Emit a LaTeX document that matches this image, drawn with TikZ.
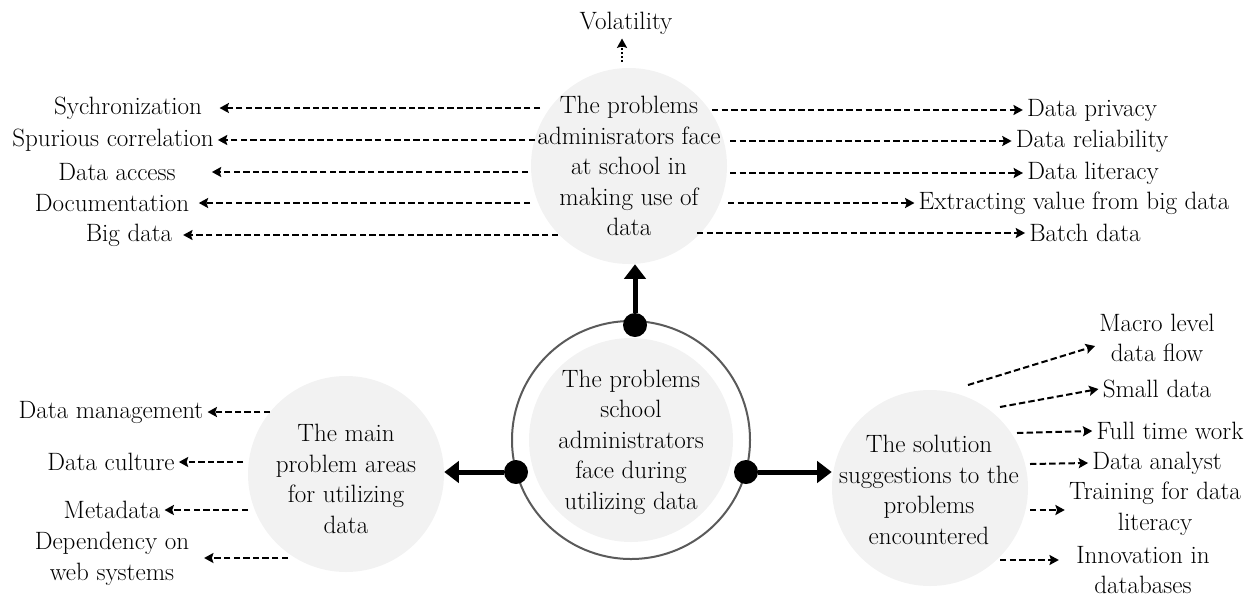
\documentclass[tikz,border=0pt]{standalone}
\usepackage{fontspec}
\usetikzlibrary{arrows.meta}
\definecolor{cfill}{HTML}{F2F2F2}
\definecolor{ringc}{HTML}{5A5A5A}
\begin{document}
\begin{tikzpicture}[x=0.75pt,y=-0.75pt,
  font=\fontsize{18.8}{22.9}\selectfont,
  bub/.style={circle,fill=cfill,minimum size=147pt,inner sep=0pt},
  txt/.style={align=center,inner sep=2pt},
  lbl/.style={align=center,inner sep=3pt},
  dotnode/.style={circle,fill=black,minimum size=18pt,inner sep=0pt},
  bigarrow/.style={line width=3.75pt,-{Triangle[length=11pt,width=16pt]}},
  dasharrow/.style={line width=1.5pt,dash pattern=on 4.8pt off 2.4pt,-{Stealth[length=7pt,width=7.5pt,inset=1.2pt]}},
  dotarrow/.style={line width=1.5pt,dash pattern=on 1.5pt off 1.5pt,-{Stealth[length=7pt,width=7.5pt,inset=1.2pt]}}]
\useasboundingbox (0,0) rectangle (1253,597);

% circles
\node[bub] (topc) at (629,166) {};
\node[txt] (topt) at (629,166) {The problems\\adminisrators face\\at school in\\making use of\\data};
\node[circle,draw=ringc,line width=1.5pt,minimum size=178.5pt,inner sep=0pt] (ring) at (631,440) {};
\node[bub,minimum size=153pt] (cen) at (631,440) {};
\node[txt] (cent) at (631,442) {The problems\\school\\administrators\\face during\\utilizing data};
\node[bub] (lc) at (346,474) {};
\node[txt] (lct) at (346,479) {The main\\problem areas\\for utilizing\\data};
\node[bub] (rc) at (930,488) {};
\node[txt] (rct) at (929,490) {The solution\\suggestions to the\\problems\\encountered};

% dots and thick arrows
\node[dotnode] (dt) at (635,325) {};
\node[dotnode] (dl) at (516,472) {};
\node[dotnode] (dr) at (746,472) {};
\draw[bigarrow] (dt) -- (dt |- topc.south);
\draw[bigarrow] (dl) -- (lc.east |- dl);
\draw[bigarrow] (dr) -- (rc.west |- dr);

% top
\node[lbl] (vol) at (626,23) {Volatility};
\coordinate (vs) at (622,62);
\draw[dotarrow] (vs) -- (vs |- vol.south);

% top-left labels
\node[lbl] (syn) at (128,108) {Sychronization};
\node[lbl] (spu) at (113,140) {Spurious correlation};
\node[lbl] (acc) at (117,172) {Data access};
\node[lbl] (doc) at (112,203) {Documentation};
\node[lbl] (big) at (129,235) {Big data};
\coordinate (s1) at (540,108);
\coordinate (s2) at (535,140);
\coordinate (s3) at (528,172);
\coordinate (s4) at (530,203);
\coordinate (s5) at (558,235);
\draw[dasharrow] (s1) -- ([xshift=10pt]syn.east);
\draw[dasharrow] (s2) -- (spu.east);
\draw[dasharrow] (s3) -- ([xshift=24pt]acc.east);
\draw[dasharrow] (s4) -- ([xshift=4pt]doc.east);
\draw[dasharrow] (s5) -- ([xshift=5pt]big.east);

% top-right labels
\node[lbl] (pri) at (1092,110) {Data privacy};
\node[lbl] (rel) at (1092,141) {Data reliability};
\node[lbl] (lit) at (1093,173) {Data literacy};
\node[lbl] (ext) at (1074,203) {Extracting value from big data};
\node[lbl] (bat) at (1085,233) {Batch data};
\coordinate (r1) at (712,110);
\coordinate (r2) at (730,141);
\coordinate (r3) at (730,173);
\coordinate (r4) at (728,203);
\coordinate (r5) at (697,233);
\draw[dasharrow] (r1) -- (pri.west);
\draw[dasharrow] (r2) -- (rel.west);
\draw[dasharrow] (r3) -- (lit.west);
\draw[dasharrow] (r4) -- (ext.west);
\draw[dasharrow] (r5) -- (bat.west);

% bottom-left labels
\node[lbl] (dm) at (111,412) {Data management};
\node[lbl] (dc) at (111,462) {Data culture};
\node[lbl] (md) at (112,510) {Metadata};
\node[lbl] (dep) at (112,559) {Dependency on\\web systems};
\coordinate (l1) at (270,412);
\coordinate (l2) at (243,462);
\coordinate (l3) at (248,510);
\coordinate (l4) at (288,558);
\draw[dasharrow] (l1) -- (dm.east);
\draw[dasharrow] (l2) -- (dc.east);
\draw[dasharrow] (l3) -- (md.east);
\draw[dasharrow] (l4) -- ([xshift=8pt]l4 -| dep.east);

% bottom-right labels
\node[lbl] (mac) at (1157,338) {Macro level\\data flow};
\node[lbl] (sm) at (1157,389) {Small data};
\node[lbl] (ft) at (1170,431) {Full time work};
\node[lbl] (da) at (1157,463) {Data analyst};
\node[lbl] (tr) at (1155,509) {Training for data\\literacy};
\node[lbl] (inn) at (1143,570) {Innovation in\\databases};
\coordinate (q1) at (968,385);
\coordinate (q2) at (1000,407);
\coordinate (q3) at (1017,433);
\coordinate (q4) at (1030,464);
\coordinate (q5) at (1030,510);
\coordinate (q6) at (1000,560);
\draw[dasharrow] (q1) -- ([yshift=-6pt]mac.west);
\draw[dasharrow] (q2) -- (sm.west);
\draw[dasharrow] (q3) -- (ft.west);
\draw[dasharrow] (q4) -- (da.west);
\draw[dasharrow] (q5) -- (q5 -| tr.west);
\draw[dasharrow] (q6) -- ([xshift=-10pt]q6 -| inn.west);
\end{tikzpicture}
\end{document}
